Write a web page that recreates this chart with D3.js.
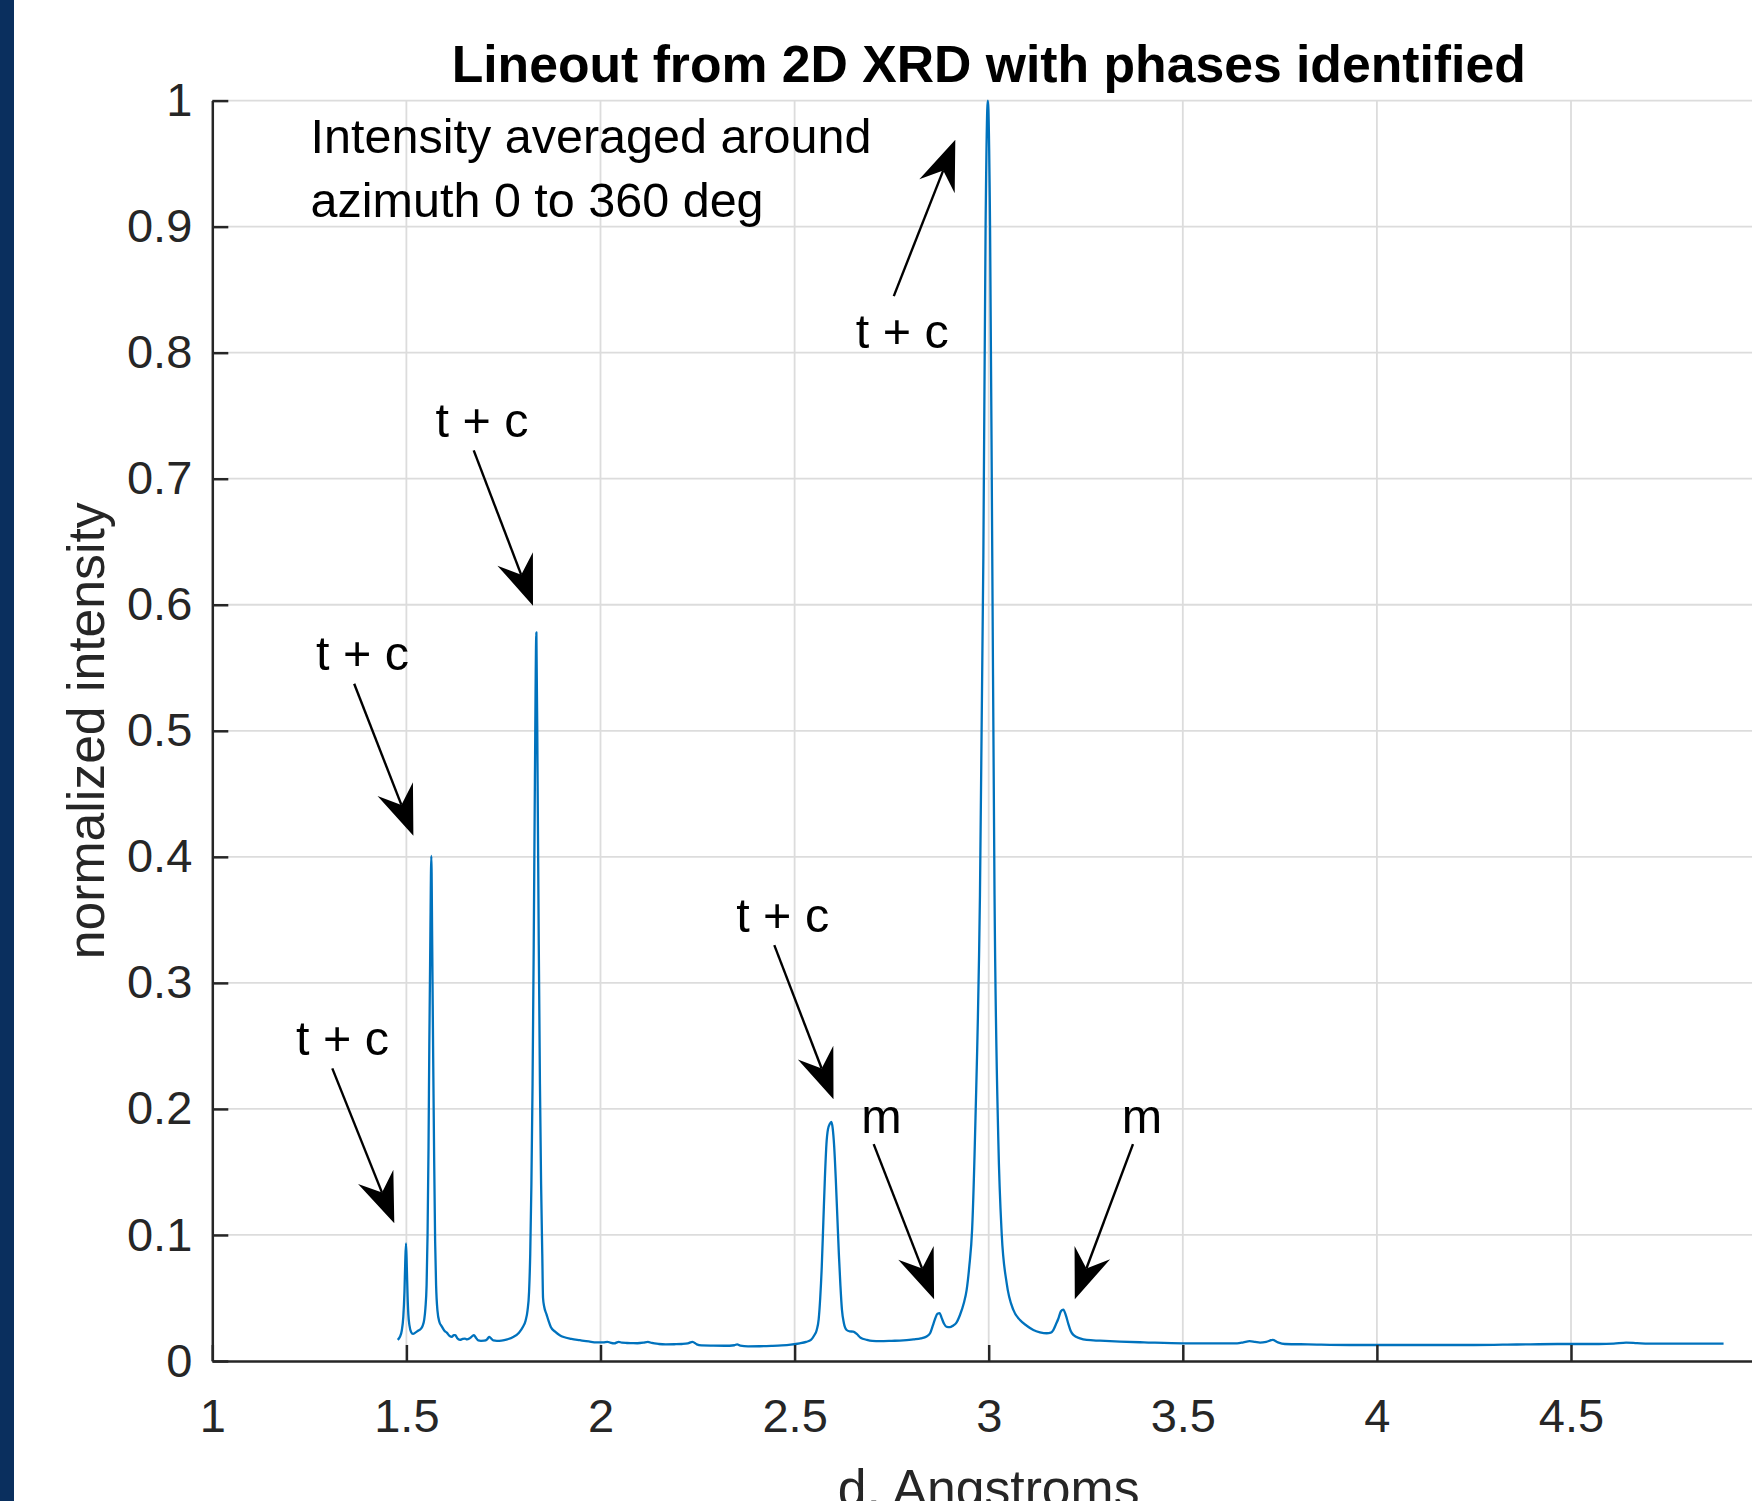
<!DOCTYPE html>
<html>
<head>
<meta charset="utf-8">
<script src="https://cdn.jsdelivr.net/npm/d3@7"></script>
<style>
  body { margin: 0; background: #ffffff; }
  svg { display: block; font-family: "Liberation Sans", Arial, Helvetica, sans-serif; }
</style>
</head>
<body>
<svg id="lineout"></svg>
<script>
let dValues = [
  1.4776, 1.483, 1.488, 1.492, 1.495, 1.497, 1.499, 1.501, 1.503, 1.505, 1.508, 1.512, 1.517,
  1.523, 1.530, 1.537, 1.542, 1.546, 1.549, 1.552, 1.5545, 1.557, 1.559, 1.5615, 1.5642, 1.5665,
  1.569, 1.5715, 1.574, 1.5765, 1.580, 1.585, 1.591, 1.598, 1.604, 1.611, 1.617, 1.622, 1.626,
  1.631, 1.638, 1.645, 1.651, 1.656, 1.662, 1.669, 1.674, 1.679, 1.685, 1.692, 1.700, 1.708,
  1.713, 1.718, 1.724, 1.733, 1.745, 1.760, 1.775, 1.790, 1.800, 1.807, 1.812, 1.816, 1.819,
  1.822, 1.825, 1.828, 1.831, 1.8348, 1.838, 1.841, 1.844, 1.847, 1.850, 1.852, 1.855, 1.861,
  1.866, 1.872, 1.883, 1.895, 1.905, 1.925, 1.947, 1.970, 1.990, 2.007, 2.018, 2.025, 2.035,
  2.047, 2.055, 2.068, 2.080, 2.095, 2.110, 2.122, 2.132, 2.150, 2.168, 2.190, 2.210, 2.225,
  2.237, 2.248, 2.260, 2.290, 2.320, 2.345, 2.352, 2.360, 2.380, 2.410, 2.440, 2.467, 2.490,
  2.513, 2.530, 2.542, 2.550, 2.557, 2.562, 2.566, 2.570, 2.574, 2.578, 2.582, 2.586, 2.5905,
  2.5947, 2.598, 2.602, 2.606, 2.610, 2.614, 2.618, 2.622, 2.627, 2.634, 2.642, 2.651, 2.660,
  2.670, 2.686, 2.700, 2.720, 2.750, 2.780, 2.806, 2.825, 2.840, 2.849, 2.856, 2.862, 2.868,
  2.8735, 2.879, 2.885, 2.892, 2.900, 2.908, 2.916, 2.926, 2.936, 2.943, 2.950, 2.9574, 2.966,
  2.9775, 2.9862, 2.992, 2.9977, 3.0035, 3.0092, 3.015, 3.0248, 3.0335, 3.0464, 3.0635, 3.0806,
  3.098, 3.115, 3.132, 3.1494, 3.160, 3.1664, 3.173, 3.1793, 3.186, 3.1922, 3.199, 3.2051, 3.211,
  3.218, 3.235, 3.2524, 3.2867, 3.3383, 3.40, 3.501, 3.58, 3.64, 3.656, 3.672, 3.686, 3.699,
  3.715, 3.7313, 3.745, 3.763, 3.8225, 3.929, 4.036, 4.15, 4.2507, 4.36, 4.465, 4.572, 4.61,
  4.642, 4.67, 4.70, 4.80, 4.893
];

let intensity = [
  0.0167, 0.019, 0.024, 0.035, 0.055, 0.078, 0.0934, 0.075, 0.052, 0.037, 0.028, 0.023, 0.0215,
  0.0225, 0.024, 0.0255, 0.028, 0.033, 0.042, 0.06, 0.10, 0.17, 0.25, 0.33, 0.4007, 0.33,
  0.24, 0.16, 0.095, 0.060, 0.040, 0.031, 0.0275, 0.024, 0.0225, 0.020, 0.0192, 0.0205, 0.0205,
  0.018, 0.0168, 0.0175, 0.0178, 0.0172, 0.0178, 0.0195, 0.0205, 0.0185, 0.0163, 0.016, 0.0161, 0.0172,
  0.0192, 0.018, 0.0163, 0.016, 0.0162, 0.0172, 0.019, 0.0225, 0.027, 0.032, 0.040, 0.055, 0.085,
  0.14, 0.22, 0.33, 0.46, 0.578, 0.46, 0.33, 0.22, 0.14, 0.085, 0.050, 0.043, 0.037,
  0.032, 0.027, 0.0233, 0.0205, 0.019, 0.0175, 0.0165, 0.0155, 0.0148, 0.0148, 0.0152, 0.0146, 0.014,
  0.0152, 0.0145, 0.0143, 0.0142, 0.0141, 0.0145, 0.0152, 0.0143, 0.0135, 0.0132, 0.0133, 0.0135, 0.0140,
  0.0152, 0.0132, 0.0124, 0.0122, 0.0121, 0.0125, 0.0132, 0.0122, 0.0116, 0.0117, 0.0120, 0.0124, 0.013,
  0.014, 0.0152, 0.0167, 0.020, 0.0246, 0.033, 0.050, 0.075, 0.11, 0.145, 0.172, 0.184, 0.188,
  0.1897, 0.185, 0.17, 0.145, 0.115, 0.085, 0.060, 0.0405, 0.030, 0.0246, 0.0235, 0.0233, 0.0215,
  0.0185, 0.0168, 0.016, 0.0158, 0.016, 0.0163, 0.0172, 0.018, 0.0195, 0.0220, 0.028, 0.0335, 0.0375,
  0.038, 0.034, 0.0295, 0.027, 0.0268, 0.028, 0.030, 0.0365, 0.046, 0.056, 0.075, 0.105, 0.193,
  0.37, 0.637, 0.9, 1.0, 0.9, 0.637, 0.37, 0.175, 0.101, 0.0616, 0.0405, 0.0325,
  0.028, 0.0246, 0.0228, 0.022, 0.0225, 0.0245, 0.029, 0.0335, 0.0395, 0.0408, 0.036, 0.0295, 0.024,
  0.0207, 0.018, 0.0167, 0.0161, 0.0154, 0.0148, 0.014, 0.014, 0.014, 0.0148, 0.0158, 0.0152, 0.0146,
  0.0152, 0.0167, 0.0148, 0.0135, 0.0132, 0.0127, 0.0127, 0.0127, 0.0127, 0.0131, 0.0135, 0.0135, 0.0138,
  0.0146, 0.0142, 0.0138, 0.0138, 0.0138
];

let xTicks = [1, 1.5, 2, 2.5, 3, 3.5, 4, 4.5];
let xTickLabels = ["1", "1.5", "2", "2.5", "3", "3.5", "4", "4.5"];
let yTicks = [0, 0.1, 0.2, 0.3, 0.4, 0.5, 0.6, 0.7, 0.8, 0.9, 1];
let yTickLabels = ["0", "0.1", "0.2", "0.3", "0.4", "0.5", "0.6", "0.7", "0.8", "0.9", "1"];

// phase labels: text spot, arrow tail, arrow head (all in data units)
let phaseLabels = ["t + c", "t + c", "t + c", "t + c", "t + c", "m", "m"];
let labelD    = [1.3354, 1.3872, 1.6950, 2.7772, 2.4693, 2.7238, 3.3946];
let labelI    = [0.2428, 0.5482, 0.7332, 0.8041, 0.3405, 0.1809, 0.1809];
let tailD     = [1.3091, 1.3655, 1.6734, 2.7555, 2.4477, 2.7037, 3.3717];
let tailI     = [0.2322, 0.5373, 0.7225, 0.8449, 0.3299, 0.1721, 0.1721];
let headD     = [1.4688, 1.5180, 1.8261, 2.9140, 2.6002, 2.8593, 3.2218];
let headI     = [0.1093, 0.4168, 0.5993, 0.9690, 0.2076, 0.0489, 0.0489];

let titleText = "Lineout from 2D XRD with phases identified";
let noteLines = ["Intensity averaged around", "azimuth 0 to 360 deg"];
let xLabel = "d, Angstroms";
let yLabel = "normalized intensity";

let config = {
  'svg': {},
  'plot': {},
  'font': {}
};

config.svg.width = 1752;
config.svg.height = 1501;

config.plot.x = 212.3;
config.plot.y = 100.6;
config.plot.width = 1552.8;
config.plot.height = 1260.4;

config.font.tick = 47;
config.font.label = 51.7;
config.font.note = 48.5;

let svg = d3.select("svg#lineout");
svg.attr('width', config.svg.width);
svg.attr('height', config.svg.height);

// dark strip down the left edge
svg.append('rect')
  .attr('x', 0)
  .attr('y', 0)
  .attr('width', 14)
  .attr('height', config.svg.height)
  .attr('fill', '#0a2f5e');

let plot = svg.append('g');
plot.attr('id', 'plot');
plot.attr('transform', translate(config.plot.x, config.plot.y));

let scale = {};

scale.x = d3.scaleLinear()
  .domain([1, 5])
  .range([0, config.plot.width]);

scale.y = d3.scaleLinear()
  .domain([0, 1])
  .range([config.plot.height, 0]);

let axis = {};

axis.x = d3.axisBottom(scale.x)
  .tickValues(xTicks)
  .tickFormat((d, i) => xTickLabels[i])
  .tickSizeInner(-16)
  .tickSizeOuter(0)
  .tickPadding(38);

axis.y = d3.axisLeft(scale.y)
  .tickValues(yTicks)
  .tickFormat((d, i) => yTickLabels[i])
  .tickSizeInner(-16)
  .tickSizeOuter(0)
  .tickPadding(20);

drawGrid();
drawLine();
drawAxes();
drawTitles();
drawAnnotations();

function drawGrid() {
  let grid = plot.append('g').attr('id', 'grid');

  grid.selectAll('line.vgrid')
    .data(xTicks.slice(1).concat([5]))
    .enter()
    .append('line')
    .attr('class', 'vgrid')
    .attr('x1', d => scale.x(d))
    .attr('x2', d => scale.x(d))
    .attr('y1', 0)
    .attr('y2', config.plot.height)
    .attr('stroke', '#dcdcdc')
    .attr('stroke-width', 1.8);

  grid.selectAll('line.hgrid')
    .data(yTicks.slice(1))
    .enter()
    .append('line')
    .attr('class', 'hgrid')
    .attr('x1', 0)
    .attr('x2', config.plot.width)
    .attr('y1', d => scale.y(d))
    .attr('y2', d => scale.y(d))
    .attr('stroke', '#dcdcdc')
    .attr('stroke-width', 1.8);
}

function drawLine() {
  let points = dValues.map((d, i) => [d, intensity[i]]);

  let line = d3.line()
    .x(p => scale.x(p[0]))
    .y(p => scale.y(p[1]))
    .curve(d3.curveMonotoneX);

  plot.append('path')
    .datum(points)
    .attr('d', line)
    .attr('fill', 'none')
    .attr('stroke', '#0072bd')
    .attr('stroke-width', 2.3)
    .attr('stroke-linejoin', 'round');
}

function drawAxes() {
  let gx = plot.append('g')
    .attr('id', 'x-axis')
    .attr('transform', translate(0, config.plot.height))
    .call(axis.x);

  let gy = plot.append('g')
    .attr('id', 'y-axis')
    .call(axis.y);

  [gx, gy].forEach(g => {
    g.attr('color', '#262626')
      .attr('font-family', null)
      .attr('font-size', null)
      .style('font-size', config.font.tick + 'px');
    g.select('.domain').attr('stroke-width', 2.5);
    g.selectAll('.tick line').attr('stroke-width', 2.5);
    g.selectAll('.tick text').attr('fill', '#262626');
  });
}

function drawTitles() {
  svg.append('text')
    .text(titleText)
    .attr('id', 'title')
    .attr('x', config.plot.x + config.plot.width / 2)
    .attr('y', 81.6)
    .attr('text-anchor', 'middle')
    .attr('font-size', config.font.label + 'px')
    .attr('font-weight', 'bold')
    .attr('fill', '#000000');

  svg.append('text')
    .text(xLabel)
    .attr('id', 'xTitle')
    .attr('x', config.plot.x + config.plot.width / 2)
    .attr('y', 1506)
    .attr('text-anchor', 'middle')
    .attr('font-size', config.font.label + 'px')
    .attr('fill', '#262626');

  svg.append('text')
    .text(yLabel)
    .attr('id', 'yTitle')
    .attr('transform', translate(104, config.plot.y + config.plot.height / 2) + ' rotate(-90)')
    .attr('text-anchor', 'middle')
    .attr('font-size', config.font.label + 'px')
    .attr('fill', '#262626');

  let note = svg.append('text')
    .attr('id', 'note')
    .attr('font-size', config.font.note + 'px')
    .attr('fill', '#000000');

  note.selectAll('tspan')
    .data(noteLines)
    .enter()
    .append('tspan')
    .attr('x', 310.6)
    .attr('y', (d, i) => 153 + i * 63.8)
    .text(d => d);
}

function drawAnnotations() {
  let notes = plot.append('g').attr('id', 'phases');

  let headLength = 50;
  let headWidth = 19;
  let notch = 33;

  phaseLabels.forEach((label, i) => {
    notes.append('text')
      .text(label)
      .attr('x', scale.x(labelD[i]))
      .attr('y', scale.y(labelI[i]))
      .attr('text-anchor', 'middle')
      .attr('font-size', config.font.note + 'px')
      .attr('fill', '#000000');

    let x0 = scale.x(tailD[i]), y0 = scale.y(tailI[i]);
    let x1 = scale.x(headD[i]), y1 = scale.y(headI[i]);
    let len = Math.hypot(x1 - x0, y1 - y0);
    let ux = (x1 - x0) / len, uy = (y1 - y0) / len;
    let px = -uy, py = ux;

    let nx = x1 - ux * notch, ny = y1 - uy * notch;
    let bx = x1 - ux * headLength, by = y1 - uy * headLength;

    notes.append('line')
      .attr('x1', x0)
      .attr('y1', y0)
      .attr('x2', nx)
      .attr('y2', ny)
      .attr('stroke', '#000000')
      .attr('stroke-width', 2.4);

    let head = [
      [x1, y1],
      [bx + px * headWidth, by + py * headWidth],
      [nx, ny],
      [bx - px * headWidth, by - py * headWidth]
    ];

    notes.append('path')
      .attr('d', 'M' + head.map(p => p.join(',')).join('L') + 'Z')
      .attr('fill', '#000000');
  });
}

function translate(x, y) {
  return 'translate(' + x + ',' + y + ')';
}
</script>
</body>
</html>
